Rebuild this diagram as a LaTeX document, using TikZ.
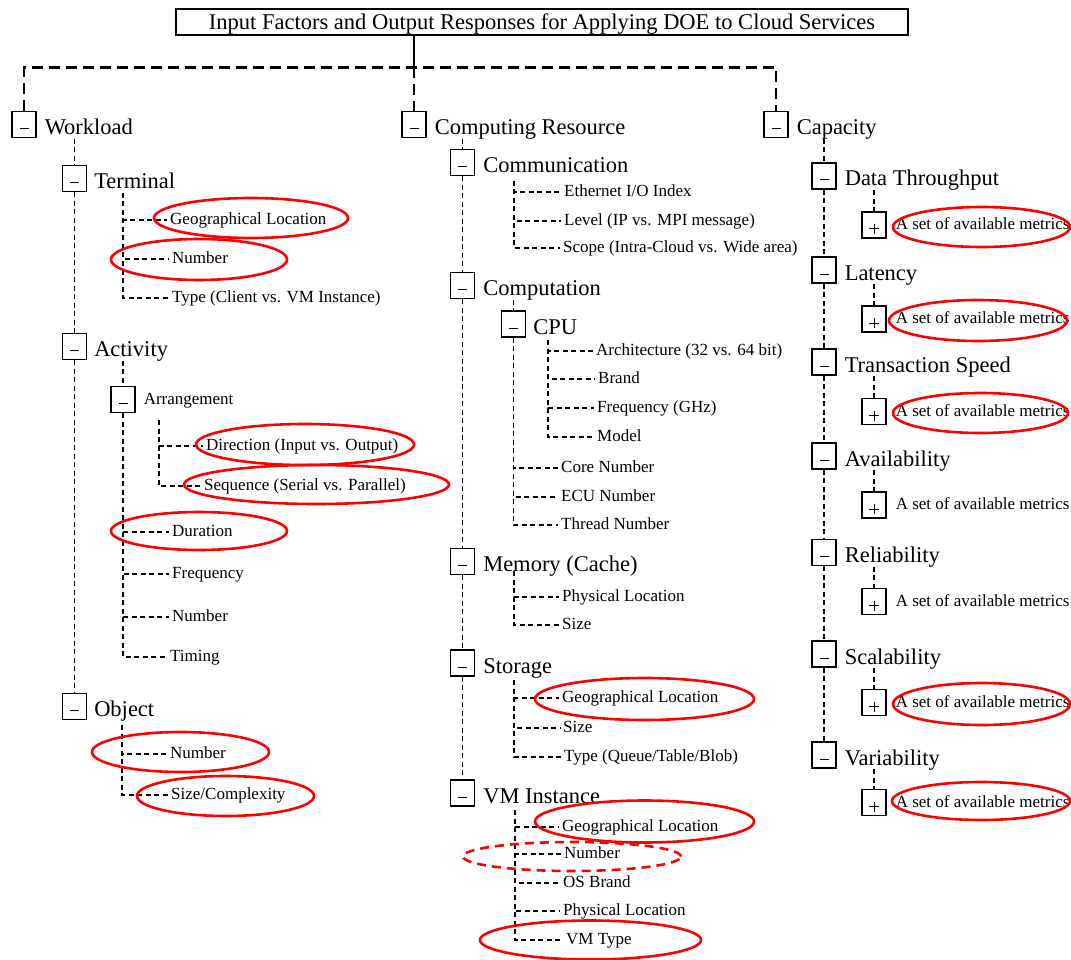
\documentclass[tikz,border=0pt]{standalone}
\usepackage{fontspec}
\setmainfont{Liberation Serif}
\begin{document}
\begin{tikzpicture}[x=1pt,y=-1pt,
  topdash/.style={line width=2.2pt, dash pattern=on 11pt off 6pt},
  dsh/.style={line width=1.1pt, dash pattern=on 5pt off 3.5pt},
  mbox/.style={draw, line width=1.1pt, minimum width=24pt, minimum height=26pt, inner sep=0pt,
    path picture={\draw[line width=1pt] ([xshift=-4.5pt,yshift=-4pt]path picture bounding box.center) -- ++(9pt,0pt);}},
  pbox/.style={draw, line width=1.1pt, minimum width=24pt, minimum height=26pt, inner sep=0pt,
    path picture={\draw[line width=1pt] ([xshift=-5pt,yshift=-4pt]path picture bounding box.center) -- ++(10pt,0pt);
                  \draw[line width=1pt] ([yshift=1pt]path picture bounding box.center) -- ++(0pt,-10pt);}},
  lab/.style={font=\fontsize{22.5}{27}\selectfont, inner xsep=0pt, inner ysep=0pt, text height=24pt, text depth=4pt, anchor=west},
  leaf/.style={font=\fontsize{17}{20}\selectfont, inner xsep=3pt, inner ysep=0pt, text height=13pt, text depth=4pt, anchor=west},
  redell/.style={red, line width=2.6pt},
  redd/.style={red, line width=2.6pt, dash pattern=on 9pt off 6pt},
  ttl/.style={draw, line width=1.5pt, minimum width=732pt, minimum height=26pt, inner sep=0pt, text height=17pt, text depth=2pt, font=\fontsize{22.5}{27}\selectfont}
]
\useasboundingbox (0,0) rectangle (1071,960);

% title
\node[ttl] (title) at (542,22) {Input Factors and Output Responses for Applying DOE to Cloud Services};

% top level
\node[mbox] (wl) at (24,124.5) {};
\node[lab] (wlL) at ([xshift=8pt]wl.east) {Workload};
\node[mbox] (cr) at (414,124.5) {};
\node[lab] (crL) at ([xshift=8pt]cr.east) {Computing Resource};
\node[mbox] (cap) at (776,124.5) {};
\node[lab] (capL) at ([xshift=8pt]cap.east) {Capacity};

\path (cr.north) ++(0,-43.5) coordinate (hl);
\draw[line width=2pt] (title.south -| hl) -- ([yshift=-4pt]hl);
\draw[topdash] (wl.north) |- (hl) -| (cap.north);
\draw[topdash] (hl) -- (cr.north);

% ---------------- Workload ----------------
\node[mbox] (tm) at (74.5,178.5) {};
\node[lab] (tmL) at ([xshift=7pt]tm.east) {Terminal};
\node[mbox] (ac) at (74.5,346.5) {};
\node[lab] (acL) at ([xshift=7pt]ac.east) {Activity};
\node[mbox] (ob) at (74.5,706.5) {};
\node[lab] (obL) at ([xshift=7pt]ob.east) {Object};

\draw[dsh] (tm.north |- wlL.south) -- (tm.north);
\draw[dsh] (tm.south) -- (ac.north);
\draw[dsh] (ac.south) -- (ob.north);

\node[leaf] (tg) at (167,220) {Geographical Location};
\node[leaf] (tn) at (169,259) {Number};
\node[leaf] (tt) at (169,298) {Type (Client vs. VM Instance)};
\coordinate (tmT) at (123,193);
\draw[dsh] (tmT) |- (tg.west);
\draw[dsh] (tmT) |- (tn.west);
\draw[dsh] (tmT) |- (tt.west);

\node[mbox] (ar) at (123,399.5) {};
\node[leaf] (arL) at ([xshift=5pt]ar.east) {Arrangement};
\draw[dsh] (ar.north |- acL.south) -- (ar.north);
\node[leaf] (di) at (203,446) {Direction (Input vs. Output)};
\node[leaf] (se) at (201,486) {Sequence (Serial vs. Parallel)};
\coordinate (arT) at (159,420);
\draw[dsh] (arT) |- (di.west);
\draw[dsh] (arT) |- (se.west);
\node[leaf] (du) at (169,532) {Duration};
\node[leaf] (fr) at (169,574) {Frequency};
\node[leaf] (an) at (169,617) {Number};
\node[leaf] (ti) at (167,657) {Timing};
\draw[dsh] (ar.south) |- (du.west);
\draw[dsh] (ar.south) |- (fr.west);
\draw[dsh] (ar.south) |- (an.west);
\draw[dsh] (ar.south) |- (ti.west);

\node[leaf] (on) at (167,754) {Number};
\node[leaf] (os) at (168,795) {Size/Complexity};
\coordinate (obT) at (122,725);
\draw[dsh] (obT) |- (on.west);
\draw[dsh] (obT) |- (os.west);

% ---------------- Computing Resource ----------------
\node[mbox] (comm) at (462.5,162.5) {};
\node[lab] (commL) at ([xshift=8pt]comm.east) {Communication};
\node[mbox] (comp) at (462.5,285.5) {};
\node[lab] (compL) at ([xshift=8pt]comp.east) {Computation};
\node[mbox] (mem) at (462.5,561.5) {};
\node[lab] (memL) at ([xshift=8pt]mem.east) {Memory (Cache)};
\node[mbox] (sto) at (462.5,663) {};
\node[lab] (stoL) at ([xshift=8pt]sto.east) {Storage};
\node[mbox] (vm) at (462.5,793) {};
\node[lab] (vmL) at ([xshift=8pt]vm.east) {VM Instance};

\draw[dsh] (comm.north |- crL.south) -- (comm.north);
\draw[dsh] (comm.south) -- (comp.north);
\draw[dsh] (comp.south) -- (mem.north);
\draw[dsh] (mem.south) -- (sto.north);
\draw[dsh] (sto.south) -- (vm.north);

\node[leaf] (e1) at (561,192) {Ethernet I/O Index};
\node[leaf] (e2) at (561,221) {Level (IP vs. MPI message)};
\node[leaf] (e3) at (560,248) {Scope (Intra-Cloud vs. Wide area)};
\coordinate (coT) at (514,181);
\draw[dsh] (coT) |- (e1.west);
\draw[dsh] (coT) |- (e2.west);
\draw[dsh] (coT) |- (e3.west);

\node[mbox] (cpu) at (513.5,324) {};
\node[lab] (cpuL) at ([xshift=7pt]cpu.east) {CPU};
\draw[dsh] (cpu.north |- compL.south) -- (cpu.north);
\node[leaf] (c1) at (593,351) {Architecture (32 vs. 64 bit)};
\node[leaf] (c2) at (595,379) {Brand};
\node[leaf] (c3) at (594,408) {Frequency (GHz)};
\node[leaf] (c4) at (594,437) {Model};
\coordinate (cpT) at (548,340);
\draw[dsh] (cpT) |- (c1.west);
\draw[dsh] (cpT) |- (c2.west);
\draw[dsh] (cpT) |- (c3.west);
\draw[dsh] (cpT) |- (c4.west);
\node[leaf] (k1) at (558,468) {Core Number};
\node[leaf] (k2) at (558,497) {ECU Number};
\node[leaf] (k3) at (558,525) {Thread Number};
\draw[dsh] (cpu.south) |- (k1.west);
\draw[dsh] (cpu.south) |- (k2.west);
\draw[dsh] (cpu.south) |- (k3.west);

\node[leaf] (m1) at (559,597) {Physical Location};
\node[leaf] (m2) at (559,625) {Size};
\coordinate (meT) at (514,571);
\draw[dsh] (meT) |- (m1.west);
\draw[dsh] (meT) |- (m2.west);

\node[leaf] (s1) at (559,698) {Geographical Location};
\node[leaf] (s2) at (560,728) {Size};
\node[leaf] (s3) at (561,757) {Type (Queue/Table/Blob)};
\coordinate (stT) at (514,680);
\draw[dsh] (stT) |- (s1.west);
\draw[dsh] (stT) |- (s2.west);
\draw[dsh] (stT) |- (s3.west);

\node[leaf] (v1) at (559,827) {Geographical Location};
\node[leaf] (v2) at (561,854) {Number};
\node[leaf] (v3) at (560,883) {OS Brand};
\node[leaf] (v4) at (560,911) {Physical Location};
\node[leaf] (v5) at (563,940) {VM Type};
\coordinate (vmT) at (515,810);
\draw[dsh] (vmT) |- (v1.west);
\draw[dsh] (vmT) |- (v2.west);
\draw[dsh] (vmT) |- (v3.west);
\draw[dsh] (vmT) |- (v4.west);
\draw[dsh] (vmT) |- (v5.west);

% ---------------- Capacity ----------------
\node[mbox] (dt) at (824,176) {};
\node[lab] (dtL) at ([xshift=8pt]dt.east) {Data Throughput};
\node[mbox] (lat) at (824,270) {};
\node[lab] (latL) at ([xshift=8pt]lat.east) {Latency};
\node[mbox] (ts) at (824,362) {};
\node[lab] (tsL) at ([xshift=8pt]ts.east) {Transaction Speed};
\node[mbox] (av) at (824,456) {};
\node[lab] (avL) at ([xshift=8pt]av.east) {Availability};
\node[mbox] (rel) at (824,552.5) {};
\node[lab] (relL) at ([xshift=8pt]rel.east) {Reliability};
\node[mbox] (sc) at (824,654) {};
\node[lab] (scL) at ([xshift=8pt]sc.east) {Scalability};
\node[mbox] (var) at (824,755) {};
\node[lab] (varL) at ([xshift=8pt]var.east) {Variability};

\draw[dsh] (dt.north |- capL.south) -- (dt.north);
\draw[dsh] (dt.south) -- (lat.north);
\draw[dsh] (lat.south) -- (ts.north);
\draw[dsh] (ts.south) -- (av.north);
\draw[dsh] (av.south) -- (rel.north);
\draw[dsh] (rel.south) -- (sc.north);
\draw[dsh] (sc.south) -- (var.north);

\foreach \n/\y/\p in {p1/225/dtL, p2/319/latL, p3/411.5/tsL, p4/505/avL, p5/601.5/relL, p6/702.5/scL, p7/802.5/varL}{
  \node[pbox] (\n) at (874,\y) {};
  \node[leaf] (\n L) at ([xshift=6pt]\n.east) {A set of available metrics};
  \draw[dsh] (\n.north |- \p.south) -- (\n.north);
}

% ---------------- red ellipses ----------------
\draw[redell] (251,218) ellipse [x radius=97pt, y radius=20pt];
\draw[redell] (199,259.5) ellipse [x radius=88pt, y radius=20.5pt];
\draw[redell] (305,444.5) ellipse [x radius=109pt, y radius=20.5pt];
\draw[redell] (316.5,484.5) ellipse [x radius=132.5pt, y radius=19.5pt];
\draw[redell] (199,531) ellipse [x radius=88pt, y radius=19pt];
\draw[redell] (180.5,752) ellipse [x radius=88.5pt, y radius=20pt];
\draw[redell] (225.5,796) ellipse [x radius=88.5pt, y radius=20pt];
\draw[redell] (644.5,699) ellipse [x radius=109.5pt, y radius=21pt];
\draw[redell] (644.5,821.5) ellipse [x radius=109.5pt, y radius=21pt];
\draw[redd] (572,856.5) ellipse [x radius=109pt, y radius=14.5pt];
\draw[redell] (590.5,940) ellipse [x radius=110.5pt, y radius=19.5pt];
\draw[redell] (981.5,227) ellipse [x radius=88.5pt, y radius=20pt];
\draw[redell] (978,320.5) ellipse [x radius=89pt, y radius=20.5pt];
\draw[redell] (980.5,413) ellipse [x radius=87.5pt, y radius=20pt];
\draw[redell] (981.5,704) ellipse [x radius=88.5pt, y radius=21pt];
\draw[redell] (981,801) ellipse [x radius=89pt, y radius=19pt];
\end{tikzpicture}
\end{document}
